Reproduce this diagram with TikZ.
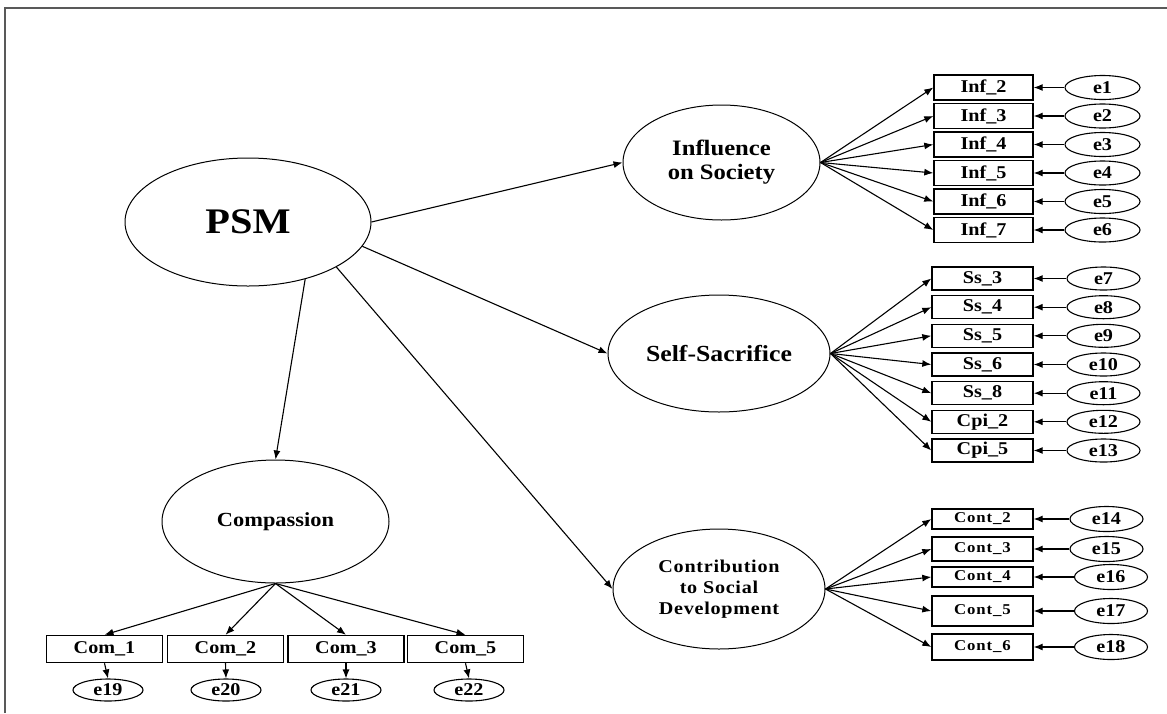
\documentclass[tikz,border=0pt]{standalone}
\usepackage{fontspec}
\setmainfont{Liberation Serif}[FakeStretch=1.12]
\usepackage{tikz}
\usetikzlibrary{shapes.geometric, arrows.meta}

\tikzset{
  latent/.style={ellipse, draw, line width=1pt, inner sep=0pt},
  obs/.style={rectangle, draw, line width=1.4pt, minimum width=100pt, minimum height=24pt, inner sep=0pt,
    font=\bfseries\fontsize{18}{18}\selectfont},
  err/.style={ellipse, draw, line width=1.1pt, minimum width=74pt, minimum height=24pt, inner sep=0pt,
    font=\bfseries\fontsize{18}{18}\selectfont},
  link/.style={line width=1.1pt, -{Latex[length=9pt,width=7pt]}}
}

\begin{document}
\begin{tikzpicture}[x=1pt, y=-1pt]
    \useasboundingbox (0,0) rectangle (1167,713);
    % Frame
    \draw[line width=2pt, black!65] (5,713) -- (5,8) -- (1167,8);

    % Latent variables
    \node[latent, minimum width=246pt, minimum height=128pt, font=\bfseries\fontsize{36}{36}\selectfont] (PSM) at (248,222) {PSM};
    \node[latent, minimum width=197pt, minimum height=115pt, align=center, font=\bfseries\fontsize{22}{24}\selectfont] (INF) at (721.5,162.5) {Influence\\on Society};
    \node[latent, minimum width=222pt, minimum height=117pt, font=\bfseries\fontsize{23}{23}\selectfont] (SS) at (719,353.5) {Self-Sacrifice};
    \node[latent, minimum width=212pt, minimum height=120pt, align=center, font=\bfseries\fontsize{18}{21}\selectfont\addfontfeature{LetterSpace=4}] (CONT) at (719,589) {Contribution\\to Social\\Development};
    \node[latent, minimum width=227pt, minimum height=123pt, font=\bfseries\fontsize{20}{20}\selectfont] (COMP) at (275.5,521.5) {Compassion};

    % Structural paths
    \draw[link] (PSM.east) -- (INF.west);
    \draw[link] (PSM.-12) -- (SS.west);
    \draw[link] (PSM.-27) -- (CONT.west);
    \draw[link] (PSM.-45) -- (COMP.north);

    % Influence on Society
    \foreach \txt/\ee/\yy [count=\i] in {Inf\_2/e1/87.5, Inf\_3/e2/116, Inf\_4/e3/144.5, Inf\_5/e4/173, Inf\_6/e5/201.5, Inf\_7/e6/230} {
        \node[obs, minimum width=99pt, minimum height=25pt] (inf\i) at (983.5,\yy) {\txt};
        \node[err, minimum width=75pt] (ei\i) at (1102.5,\yy) {\ee};
        \draw[link] (INF.east) -- (inf\i.west);
        \draw[link] (ei\i) -- (inf\i);
    }

    % Self-Sacrifice
    \foreach \txt/\ee/\yy [count=\i] in {Ss\_3/e7/278.5, Ss\_4/e8/307.2, Ss\_5/e9/335.8, Ss\_6/e10/364.5, Ss\_8/e11/393.2, Cpi\_2/e12/421.8, Cpi\_5/e13/450.5} {
        \node[obs, minimum width=101pt, minimum height=23pt] (ss\i) at (982.5,\yy) {\txt};
        \node[err, minimum width=73pt, minimum height=23pt] (es\i) at (1103.5,\yy) {\ee};
        \draw[link] (SS.east) -- (ss\i.west);
        \draw[link] (es\i) -- (ss\i);
    }

    % Contribution to Social Development
    \foreach \txt/\ee/\yy/\hh/\xe [count=\i] in {Cont\_2/e14/519/20/1106.5, Cont\_3/e15/549/24/1106.5, Cont\_4/e16/577/20/1111, Cont\_5/e17/611/30/1111, Cont\_6/e18/647/26/1111} {
        \node[obs, minimum width=101pt, minimum height=\hh pt, font=\bfseries\fontsize{15}{15}\selectfont\addfontfeature{LetterSpace=6}] (cont\i) at (982.5,\yy) {\txt};
        \node[err, minimum width=73pt, minimum height=25pt] (et\i) at (\xe,\yy) {\ee};
        \draw[link] (CONT.east) -- (cont\i.west);
        \draw[link] (et\i) -- (cont\i);
    }

    % Compassion
    \foreach \txt/\ee/\xx/\xe [count=\i] in {Com\_1/e19/104.5/108, Com\_2/e20/225.5/226, Com\_3/e21/346/346, Com\_5/e22/465.5/469} {
        \node[obs, minimum width=116pt, minimum height=27pt] (com\i) at (\xx,649) {\txt};
        \node[err, minimum width=70pt, minimum height=22pt] (ec\i) at (\xe,690) {\ee};
        \draw[link] (COMP.south) -- (com\i.north);
        \draw[link] (com\i.south) -- (ec\i.north);
    }
\end{tikzpicture}
\end{document}
